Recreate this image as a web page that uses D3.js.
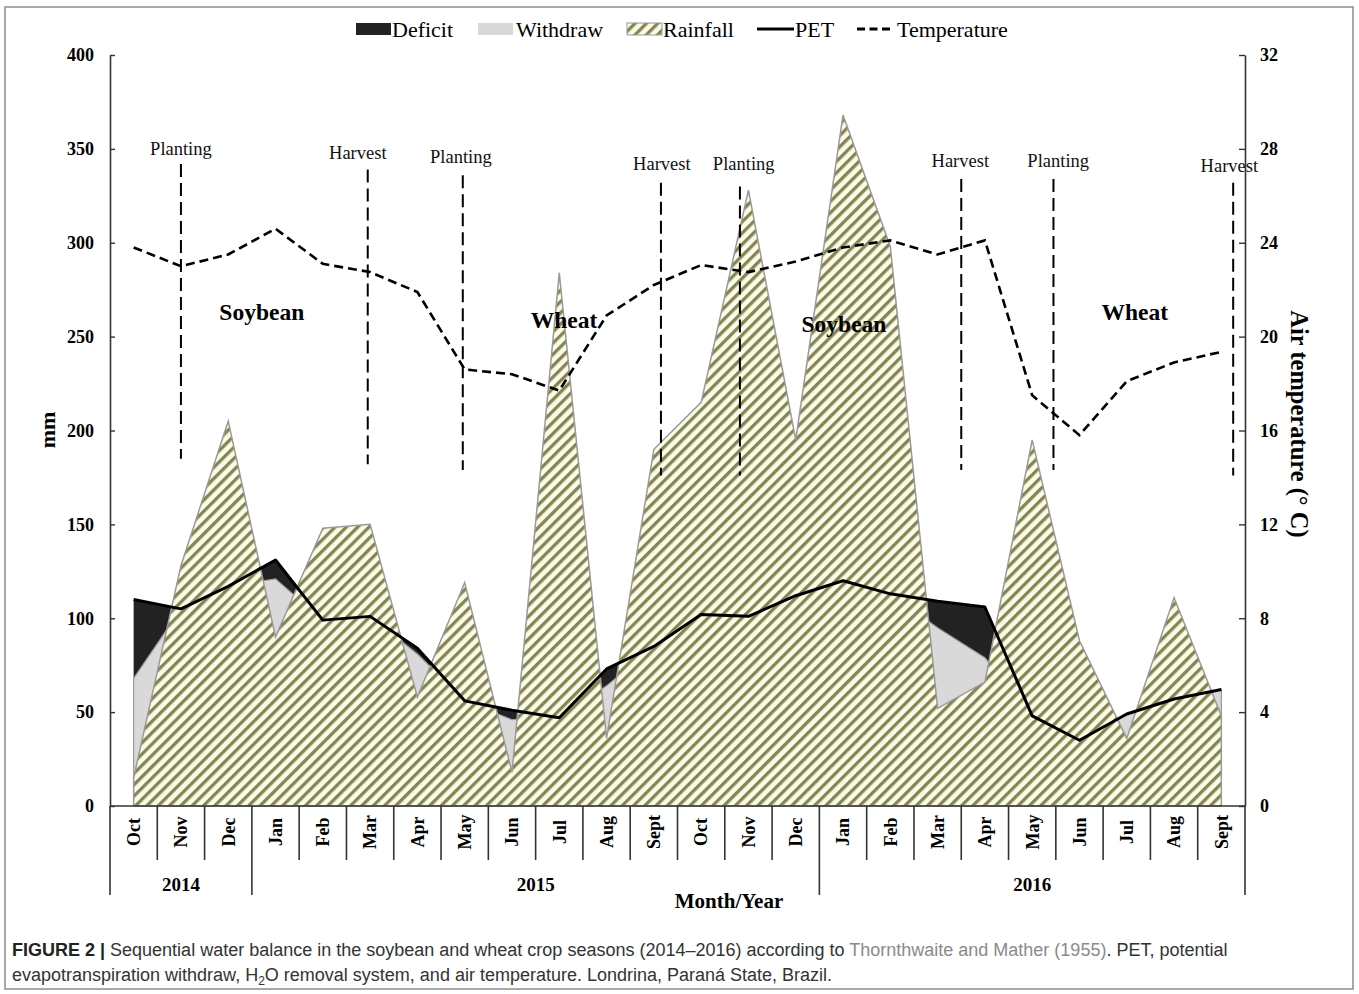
<!DOCTYPE html>
<html><head><meta charset="utf-8">
<script src="https://cdn.jsdelivr.net/npm/d3@7"></script>
<style>
html,body{margin:0;padding:0;background:#fff;}
svg{display:block;}
</style></head>
<body>
<svg id="chart" width="1359" height="994"></svg>
<script>
// ---- data ----
const months = ["Oct","Nov","Dec","Jan","Feb","Mar","Apr","May","Jun","Jul","Aug","Sept",
                "Oct","Nov","Dec","Jan","Feb","Mar","Apr","May","Jun","Jul","Aug","Sept"];
const years = [{label:"2014", from:0, to:3},{label:"2015", from:3, to:15},{label:"2016", from:15, to:24}];
const rainfall = [15,128,205,90,148,150,58,119,18,284,36,190,215,328,195,368,298,52,66,195,88,36,111,48];
const pet      = [110,105,117,131,99,101,84,56,51,47,73,85,102,101,112,120,113,109,106,48,35,49,57,62];
const withdraw = [53,0,0,31,0,0,23,0,28,0,28,0,0,0,0,0,0,43,13,0,0,13,0,14];
const deficit  = [42,0,0,10,0,0,3,0,5,0,9,0,0,0,0,0,0,14,27,0,0,0,0,0];
const temperature = [23.8,23.0,23.5,24.6,23.1,22.75,21.9,18.6,18.4,17.7,20.9,22.2,
                     23.05,22.75,23.2,23.8,24.1,23.5,24.1,17.5,15.8,18.1,18.9,19.35];
const mmTicks = [0,50,100,150,200,250,300,350,400];
const tempTicks = [0,4,8,12,16,20,24,28,32];
const events = [
  {label:"Planting", pos:1.0,  labelPos:1.0,  top:342, bottom:185, labelMm:350},
  {label:"Harvest",  pos:4.95, labelPos:4.74, top:339, bottom:182, labelMm:348},
  {label:"Planting", pos:6.96, labelPos:6.92, top:336, bottom:179, labelMm:346},
  {label:"Harvest",  pos:11.15,labelPos:11.17,top:332, bottom:176, labelMm:342},
  {label:"Planting", pos:12.82,labelPos:12.9, top:330, bottom:176, labelMm:342},
  {label:"Harvest",  pos:17.5, labelPos:17.48,top:334, bottom:179, labelMm:344},
  {label:"Planting", pos:19.45,labelPos:19.55,top:334, bottom:179, labelMm:344},
  {label:"Harvest",  pos:23.25,labelPos:23.17,top:332, bottom:176, labelMm:341}
];
const crops = [{label:"Soybean", pos:2.71, mm:263},{label:"Wheat", pos:9.1, mm:259},
               {label:"Soybean", pos:15.02, mm:257},{label:"Wheat", pos:21.17, mm:263}];

// ---- layout ----
const svg = d3.select("#chart");
const L = 110, R = 1245, T = 55, B = 806;
const serif = "'Liberation Serif','Times New Roman',serif";
const sans = "'Liberation Sans',Arial,sans-serif";

const x = d3.scaleBand().domain(d3.range(months.length)).range([L, R]).padding(0);
const bw = x.bandwidth();
const xc = i => x(i) + bw / 2;
const xpos = p => L + bw * (p + 0.5);
const y = d3.scaleLinear().domain([0, 400]).range([B, T]);
const y2 = d3.scaleLinear().domain([0, 32]).range([B, T]);

// outer frame
svg.append("rect").attr("x", 5).attr("y", 7).attr("width", 1348).attr("height", 982)
  .attr("fill", "none").attr("stroke", "#8c8c8c").attr("stroke-width", 1.5);

// hatch pattern
const defs = svg.append("defs");
const pat = defs.append("pattern").attr("id", "hatch").attr("patternUnits", "userSpaceOnUse")
  .attr("width", 8).attr("height", 8).attr("patternTransform", "rotate(45)");
pat.append("rect").attr("width", 8).attr("height", 8).attr("fill", "#fbfbea");
pat.append("rect").attr("x", 0).attr("width", 3.3).attr("height", 8).attr("fill", "#858552");

const idx = d3.range(months.length);
const aet = idx.map(i => rainfall[i] < pet[i] ? rainfall[i] + withdraw[i] : pet[i]);
const defTop = idx.map(i => deficit[i] > 0 ? aet[i] + deficit[i] : pet[i]);

const area = vals => d3.area().x(i => xc(i)).y0(y(0)).y1(i => y(vals[i]));

// deficit (black) layer
svg.append("path").datum(idx).attr("d", area(defTop)).attr("fill", "#222222");
// withdraw (light gray) layer
svg.append("path").datum(idx).attr("d", area(aet)).attr("fill", "#d9d9d9")
  .attr("stroke", "#999").attr("stroke-width", 1.2);
// rainfall hatched
svg.append("path").datum(idx).attr("d", area(rainfall)).attr("fill", "url(#hatch)")
  .attr("stroke", "#9a9a9a").attr("stroke-width", 1.5);

// PET line
svg.append("path").datum(idx)
  .attr("d", d3.line().x(i => xc(i)).y(i => y(pet[i])))
  .attr("fill", "none").attr("stroke", "#000").attr("stroke-width", 3).attr("stroke-linejoin", "round");
// Temperature line
svg.append("path").datum(idx)
  .attr("d", d3.line().x(i => xc(i)).y(i => y2(temperature[i])))
  .attr("fill", "none").attr("stroke", "#000").attr("stroke-width", 2.6)
  .attr("stroke-dasharray", "9,5");

// event dashed lines
events.forEach(e => {
  svg.append("line").attr("x1", xpos(e.pos)).attr("x2", xpos(e.pos))
    .attr("y1", y(e.top)).attr("y2", y(e.bottom))
    .attr("stroke", "#000").attr("stroke-width", 2).attr("stroke-dasharray", "13,6");
  svg.append("text").attr("x", xpos(e.labelPos)).attr("y", y(e.labelMm)).attr("dy", "0.35em")
    .attr("text-anchor", "middle").attr("font-family", serif).attr("font-size", 18.5)
    .attr("fill", "#111").text(e.label);
});
crops.forEach(c => {
  svg.append("text").attr("x", xpos(c.pos)).attr("y", y(c.mm)).attr("dy", "0.35em")
    .attr("text-anchor", "middle").attr("font-family", serif).attr("font-size", 23.5)
    .attr("font-weight", "bold").attr("fill", "#000").text(c.label);
});

// axes
const gl = svg.append("g").attr("transform", `translate(${L},0)`)
  .call(d3.axisLeft(y).tickValues(mmTicks).tickSize(-5).tickSizeOuter(0).tickPadding(16));
const gr = svg.append("g").attr("transform", `translate(${R},0)`)
  .call(d3.axisRight(y2).tickValues(tempTicks).tickSize(-6).tickSizeOuter(0).tickPadding(15));
[gl, gr].forEach(g => {
  g.select(".domain").attr("stroke", "#333").attr("stroke-width", 1.6);
  g.selectAll(".tick line").attr("stroke", "#333").attr("stroke-width", 1.4);
  g.selectAll(".tick text").attr("font-family", serif).attr("font-size", 18)
    .attr("font-weight", "bold").attr("fill", "#000");
});

// x axis
svg.append("line").attr("x1", L).attr("x2", R).attr("y1", B).attr("y2", B)
  .attr("stroke", "#333").attr("stroke-width", 1.6);
const yearBounds = new Set(years.flatMap(yr => [yr.from, yr.to]));
d3.range(months.length + 1).forEach(i => {
  const xx = i < months.length ? x(i) : R;
  svg.append("line").attr("x1", xx).attr("x2", xx).attr("y1", B)
    .attr("y2", yearBounds.has(i) ? 895 : 860)
    .attr("stroke", "#333").attr("stroke-width", 1.6);
});
idx.forEach(i => {
  svg.append("text").attr("transform", `translate(${xc(i)},832) rotate(-90)`)
    .attr("text-anchor", "middle").attr("dy", "0.35em")
    .attr("font-family", serif).attr("font-size", 18).attr("font-weight", "bold")
    .attr("fill", "#000").text(months[i]);
});
years.forEach(yr => {
  const cx = (x(yr.from) + (yr.to < months.length ? x(yr.to) : R)) / 2;
  svg.append("text").attr("x", cx).attr("y", 884).attr("dy", "0.35em").attr("text-anchor", "middle")
    .attr("font-family", serif).attr("font-size", 19).attr("font-weight", "bold").text(yr.label);
});
svg.append("text").attr("x", 729).attr("y", 901).attr("dy", "0.35em").attr("text-anchor", "middle")
  .attr("font-family", serif).attr("font-size", 21).attr("font-weight", "bold").text("Month/Year");

// axis titles
svg.append("text").attr("transform", "translate(47,430) rotate(-90)").attr("dy", "0.35em")
  .attr("text-anchor", "middle").attr("font-family", serif).attr("font-size", 22)
  .attr("font-weight", "bold").text("mm");
svg.append("text").attr("transform", "translate(1300,424) rotate(90)").attr("dy", "0.35em")
  .attr("text-anchor", "middle").attr("font-family", serif).attr("font-size", 24.5)
  .attr("font-weight", "bold").text("Air temperature (° C)");

// legend
const lg = svg.append("g").attr("font-family", serif).attr("font-size", 22);
const ly = 29;
lg.append("rect").attr("x", 356).attr("y", ly - 6).attr("width", 35).attr("height", 12).attr("fill", "#222");
lg.append("text").attr("x", 392).attr("y", ly).attr("dy", "0.35em").text("Deficit");
lg.append("rect").attr("x", 478).attr("y", ly - 6).attr("width", 35).attr("height", 12).attr("fill", "#d9d9d9");
lg.append("text").attr("x", 516).attr("y", ly).attr("dy", "0.35em").text("Withdraw");
lg.append("rect").attr("x", 627).attr("y", ly - 6).attr("width", 35).attr("height", 12)
  .attr("fill", "url(#hatch)").attr("stroke", "#999").attr("stroke-width", 1);
lg.append("text").attr("x", 663).attr("y", ly).attr("dy", "0.35em").text("Rainfall");
lg.append("line").attr("x1", 757).attr("x2", 794).attr("y1", ly).attr("y2", ly)
  .attr("stroke", "#000").attr("stroke-width", 3);
lg.append("text").attr("x", 795).attr("y", ly).attr("dy", "0.35em").text("PET");
lg.append("line").attr("x1", 857).attr("x2", 894).attr("y1", ly).attr("y2", ly)
  .attr("stroke", "#000").attr("stroke-width", 3).attr("stroke-dasharray", "8,4.5");
lg.append("text").attr("x", 897).attr("y", ly).attr("dy", "0.35em").text("Temperature");

// caption
const cap = svg.append("g").attr("font-family", sans).attr("font-size", 18).attr("fill", "#333");
const t1 = cap.append("text").attr("x", 12).attr("y", 956);
t1.append("tspan").attr("font-weight", "bold").attr("fill", "#222").text("FIGURE 2 | ");
t1.append("tspan").text("Sequential water balance in the soybean and wheat crop seasons (2014–2016) according to ");
t1.append("tspan").attr("fill", "#8a8a8a").text("Thornthwaite and Mather (1955)");
t1.append("tspan").text(". PET, potential");
const t2 = cap.append("text").attr("x", 12).attr("y", 981);
t2.append("tspan").text("evapotranspiration withdraw, H");
t2.append("tspan").attr("font-size", 12).attr("dy", 4).text("2");
t2.append("tspan").attr("dy", -4).text("O removal system, and air temperature. Londrina, Paraná State, Brazil.");
</script>
</body></html>
